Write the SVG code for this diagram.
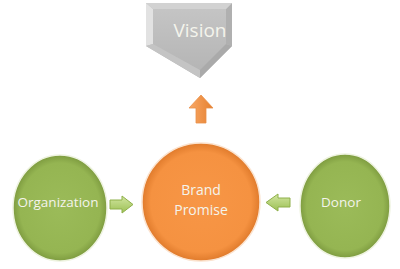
<svg xmlns="http://www.w3.org/2000/svg" width="400" height="269" viewBox="0 0 400 269">
<defs>
<radialGradient id="gGreen" cx="50%" cy="50%" r="50%">
<stop offset="0" stop-color="#9bbb59"/>
<stop offset="0.85" stop-color="#95b552"/>
<stop offset="1" stop-color="#7e9c40"/>
</radialGradient>
<radialGradient id="gOrange" cx="50%" cy="50%" r="50%">
<stop offset="0" stop-color="#f79646"/>
<stop offset="0.85" stop-color="#f59241"/>
<stop offset="1" stop-color="#e07b2c"/>
</radialGradient>
<linearGradient id="gGrey" x1="0" y1="0" x2="0" y2="1">
<stop offset="0" stop-color="#c6c6c6"/>
<stop offset="1" stop-color="#b3b3b3"/>
</linearGradient>
<linearGradient id="gArrowG" x1="0" y1="0" x2="0" y2="1">
<stop offset="0" stop-color="#d2e6a0"/>
<stop offset="1" stop-color="#9cc055"/>
</linearGradient>
<linearGradient id="gArrowO" x1="0" y1="0" x2="1" y2="0">
<stop offset="0" stop-color="#f9a866"/>
<stop offset="1" stop-color="#e5802f"/>
</linearGradient>
<style>
.lbl{font-family:"Open Sans","Liberation Sans",sans-serif;fill:#f4f4ec;text-anchor:middle}
.ring{stroke:#eef3e0;stroke-width:1.5}
</style>
</defs>
<rect width="400" height="269" fill="#ffffff"/>
<g id="connectors">
<path id="arrow-up" d="M196 123 L196 108 L189 108 L201 95 L213 108 L206 108 L206 123 Z" fill="url(#gArrowO)" stroke="#e8904a" stroke-width="0.8"/>
<path id="arrow-org" d="M110 200 L122 200 L122 196 L133 204.5 L122 213 L122 209 L110 209 Z" fill="url(#gArrowG)" stroke="#8fb04a" stroke-width="1"/>
<path id="arrow-donor" d="M290 198 L278 198 L278 194 L266 202.5 L278 211 L278 207 L290 207 Z" fill="url(#gArrowG)" stroke="#8fb04a" stroke-width="1"/>
</g>
<g id="vision">
<path d="M146 3 L232 3 L232 46 L200 78 L146 46 Z" fill="url(#gGrey)"/>
<path d="M146 3 L153 9 L153 44 L146 46 Z" fill="#e2e2e2"/>
<path d="M146 46 L153 44 L200 70 L200 78 Z" fill="#c4c4c4"/>
<path d="M232 46 L226 44 L200 70 L200 78 Z" fill="#aaaaaa"/>
<path d="M232 3 L226 9 L226 44 L232 46 Z" fill="#b0b0b0"/>
<path d="M146 3 L232 3 L226 9 L153 9 Z" fill="#d2d2d2"/>
<text class="lbl" x="200" y="37" font-size="19" fill="#f4f4f4">Vision</text>
</g>
<g id="organization">
<ellipse cx="60" cy="208" rx="47" ry="53" fill="url(#gGreen)" class="ring"/>
<text class="lbl" x="58" y="207" font-size="13.5">Organization</text>
</g>
<g id="brand-promise">
<circle cx="201" cy="202" r="59" fill="url(#gOrange)" stroke="#fbe3cf" stroke-width="1.5"/>
<text class="lbl" x="201" y="195" font-size="14">Brand</text>
<text class="lbl" x="201" y="215" font-size="14">Promise</text>
</g>
<g id="donor">
<ellipse cx="345" cy="206" rx="45" ry="52" fill="url(#gGreen)" class="ring"/>
<text class="lbl" x="341" y="207" font-size="13.5">Donor</text>
</g>
</svg>
